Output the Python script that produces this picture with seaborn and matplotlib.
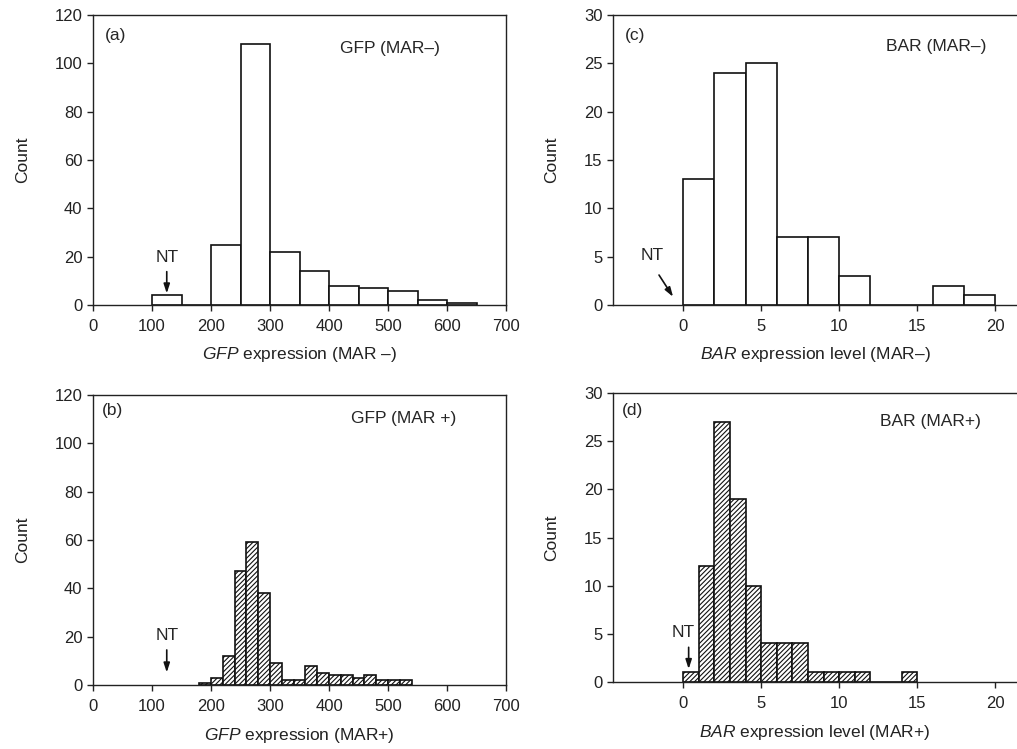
import numpy as np
import pandas as pd
import matplotlib
matplotlib.use("Agg")
import matplotlib.pyplot as plt
import seaborn as sns

# ---- data (counts per bin) ----
gfp_minus_edges = [100, 150, 200, 250, 300, 350, 400, 450, 500, 550, 600, 650]
gfp_minus_counts = [4, 0, 25, 108, 22, 14, 8, 7, 6, 2, 1]

gfp_plus_edges = list(range(180, 541, 20))
gfp_plus_counts = [1, 3, 12, 47, 59, 38, 9, 2, 2, 8, 5, 4, 4, 3, 4, 2, 2, 2]

bar_minus_edges = list(range(0, 21, 2))
bar_minus_counts = [13, 24, 25, 7, 7, 3, 0, 0, 2, 1]

bar_plus_edges = list(range(0, 16, 1))
bar_plus_counts = [1, 12, 27, 19, 10, 4, 4, 4, 1, 1, 1, 1, 0, 0, 1]

gfp_ticks = [0, 100, 200, 300, 400, 500, 600, 700]
gfp_yticks = [0, 20, 40, 60, 80, 100, 120]
bar_ticks = [0, 5, 10, 15, 20]
bar_yticks = [0, 5, 10, 15, 20, 25, 30]

sns.set_style("ticks")
plt.rcParams["font.family"] = ["Liberation Sans", "DejaVu Sans"]
plt.rcParams["mathtext.fontset"] = "custom"
plt.rcParams["mathtext.rm"] = "Liberation Sans"
plt.rcParams["mathtext.it"] = "Liberation Sans:italic"
plt.rcParams["hatch.linewidth"] = 0.8
plt.rcParams["axes.edgecolor"] = "#222222"
plt.rcParams["axes.linewidth"] = 1.0

W, H = 1017, 749
fig = plt.figure(figsize=(W / 100, H / 100), dpi=100)


def make_ax(l, r, t, b):
    return fig.add_axes([l / W, 1 - b / H, (r - l) / W, (b - t) / H])


ax_a = make_ax(93, 506, 15, 305)
ax_b = make_ax(93, 506, 395, 685)
ax_c = make_ax(613, 1017, 15, 305)
ax_d = make_ax(613, 1017, 393, 682)


def draw_hist(ax, edges, counts, hatch=None):
    edges = [float(e) for e in edges]
    centers = [(edges[i] + edges[i + 1]) / 2 for i in range(len(edges) - 1)]
    df = pd.DataFrame({"x": centers, "w": [float(c) for c in counts]})
    kw = dict(hatch=hatch) if hatch else {}
    sns.histplot(data=df, x="x", weights="w", bins=edges, ax=ax,
                 color="white", edgecolor="#111111", linewidth=1.2,
                 alpha=1, **kw)


draw_hist(ax_a, gfp_minus_edges, gfp_minus_counts)
draw_hist(ax_b, gfp_plus_edges, gfp_plus_counts, hatch="///////")
draw_hist(ax_c, bar_minus_edges, bar_minus_counts)
draw_hist(ax_d, bar_plus_edges, bar_plus_counts, hatch="///////")

fs = 12      # tick labels
fl = 12.5    # labels / annotations
for ax in (ax_a, ax_b):
    ax.set_xlim(0, 700)
    ax.set_ylim(0, 120)
    ax.set_xticks(gfp_ticks)
    ax.set_yticks(gfp_yticks)
for ax in (ax_c, ax_d):
    ax.set_xlim(-4.5, 21.4)
    ax.set_ylim(0, 30)
    ax.set_xticks(bar_ticks)
    ax.set_yticks(bar_yticks)
    ax.spines["right"].set_visible(False)

for ax in (ax_a, ax_b, ax_c, ax_d):
    ax.tick_params(axis="both", labelsize=fs, length=4.5, width=1,
                   color="#222222", labelcolor="#222222")
    ax.tick_params(axis="x", pad=5.5)
    ax.tick_params(axis="y", pad=3)
    ax.set_ylabel("Count", fontsize=fl, color="#222222", labelpad=18)

ax_a.set_xlabel(r"$\it{GFP}$ expression (MAR –)", fontsize=fl, color="#222222", labelpad=8)
ax_b.set_xlabel(r"$\it{GFP}$ expression (MAR+)", fontsize=fl, color="#222222", labelpad=9)
ax_c.set_xlabel(r"$\it{BAR}$ expression level (MAR–)", fontsize=fl, color="#222222", labelpad=8)
ax_d.set_xlabel(r"$\it{BAR}$ expression level (MAR+)", fontsize=fl, color="#222222", labelpad=9)

# panel labels and titles
ax_a.text(0.029, 0.93, "(a)", transform=ax_a.transAxes, fontsize=fl, va="center", ha="left")
ax_a.text(0.72, 0.886, "GFP (MAR–)", transform=ax_a.transAxes, fontsize=fl, va="center", ha="center")
ax_b.text(0.022, 0.945, "(b)", transform=ax_b.transAxes, fontsize=fl, va="center", ha="left")
ax_b.text(0.753, 0.92, "GFP (MAR +)", transform=ax_b.transAxes, fontsize=fl, va="center", ha="center")
ax_c.text(0.03, 0.93, "(c)", transform=ax_c.transAxes, fontsize=fl, va="center", ha="left")
ax_c.text(0.80, 0.893, "BAR (MAR–)", transform=ax_c.transAxes, fontsize=fl, va="center", ha="center")
ax_d.text(0.022, 0.938, "(d)", transform=ax_d.transAxes, fontsize=fl, va="center", ha="left")
ax_d.text(0.785, 0.90, "BAR (MAR+)", transform=ax_d.transAxes, fontsize=fl, va="center", ha="center")

# NT annotations
arrow = dict(arrowstyle="-|>,head_length=0.55,head_width=0.18", color="#111111", lw=1.2,
             shrinkA=0, shrinkB=0)
ax_a.text(125, 19.5, "NT", fontsize=fl, ha="center", va="center")
ax_a.annotate("", xy=(125, 4.8), xytext=(125, 13.8), arrowprops=arrow)
ax_b.text(125, 20.3, "NT", fontsize=fl, ha="center", va="center")
ax_b.annotate("", xy=(125, 5.2), xytext=(125, 14.5), arrowprops=arrow)
ax_c.text(-2.0, 5.1, "NT", fontsize=fl, ha="center", va="center")
ax_c.annotate("", xy=(-0.65, 0.85), xytext=(-1.55, 3.1), arrowprops=arrow)
ax_d.text(0.0, 5.1, "NT", fontsize=fl, ha="center", va="center")
ax_d.annotate("", xy=(0.35, 1.35), xytext=(0.35, 3.6), arrowprops=arrow)

fig.savefig("out.png", dpi=100, facecolor="white")
